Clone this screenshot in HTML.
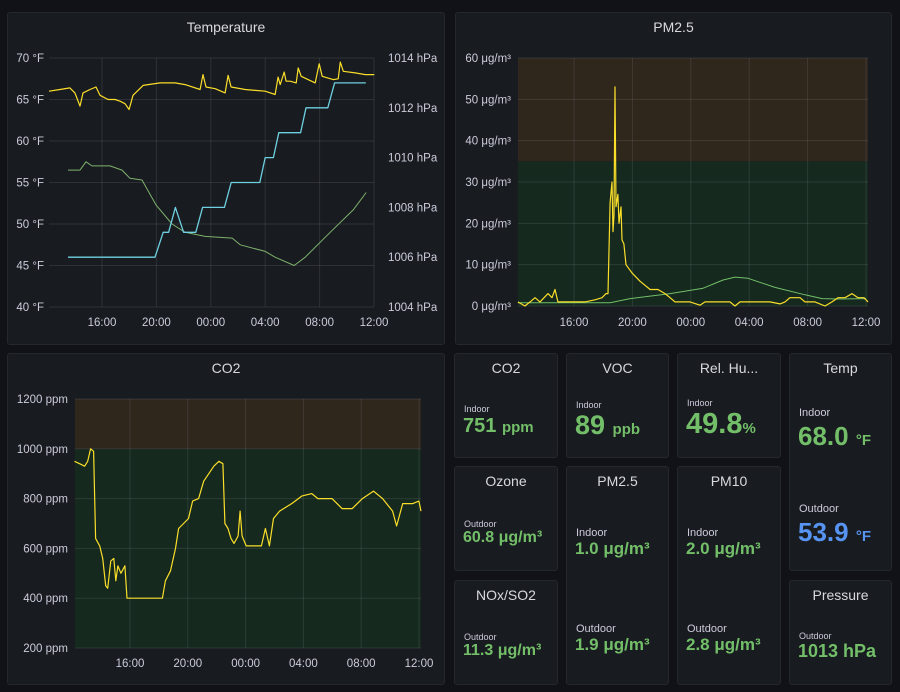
<!DOCTYPE html>
<html><head><meta charset="utf-8">
<style>
body{margin:0;background:#111217;width:900px;height:692px;overflow:hidden;font-family:"Liberation Sans",sans-serif;color:#ccccdc;position:relative}
.panel{position:absolute;background:#181b1f;border:1px solid #24272d;border-radius:3px;box-sizing:border-box}
.ptitle{position:absolute;left:0;right:0;top:6px;text-align:center;font-size:14px;color:#d8d9e0}
.lbl{position:absolute;font-size:9px;color:#ccccdc}
.val{position:absolute;font-size:20px;color:#73bf69;white-space:nowrap;font-weight:bold}
.unit{font-size:15px}
svg{position:absolute;left:0;top:0}
svg text{font-family:"Liberation Sans",sans-serif;font-size:11.5px;fill:#ccccdc}
</style></head><body>
<div class="panel" style="left:7px;top:12px;width:438px;height:333px"><div class="ptitle">Temperature</div></div>
<div class="panel" style="left:455px;top:12px;width:437px;height:333px"><div class="ptitle">PM2.5</div></div>
<div class="panel" style="left:7px;top:353px;width:438px;height:332px"><div class="ptitle">CO2</div></div>

<div class="panel" style="left:454px;top:353px;width:104px;height:105px"><div class="ptitle">CO2</div><div class="lbl" style="left:9px;top:50px">Indoor</div><div class="val" style="left:8px;top:61px">751 <span class="unit">ppm</span></div></div>
<div class="panel" style="left:566px;top:353px;width:103px;height:105px"><div class="ptitle">VOC</div><div class="lbl" style="left:9px;top:46px">Indoor</div><div class="val" style="left:8px;top:56px;font-size:27px">89 <span class="unit">ppb</span></div></div>
<div class="panel" style="left:677px;top:353px;width:104px;height:105px"><div class="ptitle">Rel. Hu...</div><div class="lbl" style="left:9px;top:44px">Indoor</div><div class="val" style="left:8px;top:54px;font-size:29px">49.8<span class="unit">%</span></div></div>
<div class="panel" style="left:789px;top:353px;width:103px;height:218px"><div class="ptitle">Temp</div><div class="lbl" style="left:9px;top:53px;font-size:11px">Indoor</div><div class="val" style="left:8px;top:67px;font-size:26px">68.0 <span class="unit">°F</span></div><div class="lbl" style="left:9px;top:149px;font-size:11px">Outdoor</div><div class="val" style="left:8px;top:163px;font-size:26px;color:#5794f2">53.9 <span class="unit">°F</span></div></div>
<div class="panel" style="left:454px;top:466px;width:104px;height:105px"><div class="ptitle">Ozone</div><div class="lbl" style="left:9px;top:52px">Outdoor</div><div class="val" style="left:8px;top:62px;font-size:16px">60.8 μg/m³</div></div>
<div class="panel" style="left:566px;top:466px;width:103px;height:219px"><div class="ptitle">PM2.5</div><div class="lbl" style="left:9px;top:60px;font-size:11px">Indoor</div><div class="val" style="left:8px;top:72px;font-size:17px">1.0 μg/m³</div><div class="lbl" style="left:9px;top:156px;font-size:11px">Outdoor</div><div class="val" style="left:8px;top:168px;font-size:17px">1.9 μg/m³</div></div>
<div class="panel" style="left:677px;top:466px;width:104px;height:219px"><div class="ptitle">PM10</div><div class="lbl" style="left:9px;top:60px;font-size:11px">Indoor</div><div class="val" style="left:8px;top:72px;font-size:17px">2.0 μg/m³</div><div class="lbl" style="left:9px;top:156px;font-size:11px">Outdoor</div><div class="val" style="left:8px;top:168px;font-size:17px">2.8 μg/m³</div></div>
<div class="panel" style="left:454px;top:580px;width:104px;height:105px"><div class="ptitle">NOx/SO2</div><div class="lbl" style="left:9px;top:51px">Outdoor</div><div class="val" style="left:8px;top:61px;font-size:16px">11.3 μg/m³</div></div>
<div class="panel" style="left:789px;top:580px;width:103px;height:105px"><div class="ptitle">Pressure</div><div class="lbl" style="left:9px;top:50px">Outdoor</div><div class="val" style="left:8px;top:60px;font-size:18px">1013 hPa</div></div>

<svg id="chart" width="900" height="692"></svg>
<script>
const timeTicks=[4,8,12,16,20,24];
const timeLabels=["16:00","20:00","00:00","04:00","08:00","12:00"];
const tempTicks=[40,45,50,55,60,65,70];
const pressTicks=[1004,1006,1008,1010,1012,1014];
const pmTicks=[0,10,20,30,40,50,60];
const co2Ticks=[200,400,600,800,1000,1200];
const tempInTimes=[0.10,0.91,1.64,2.01,2.38,2.60,3.12,3.56,3.85,4.44,4.96,5.32,5.69,5.99,6.28,7.02,8.27,9.37,10.11,11.21,11.43,11.65,12.32,13.05,13.27,13.49,14.52,16.00,16.73,16.95,17.10,17.40,17.54,17.84,18.28,18.43,18.65,19.68,19.97,20.19,21.00,21.37,21.52,21.74,22.62,23.36,24.02];
const tempInValues=[66,66.2,66.4,65.8,64.2,65.8,66.2,66.5,65.5,65,65,64.8,64.5,63.8,65.5,66.7,67,67,66.8,66.2,68,66.5,66.3,65.8,67.9,66.5,66.2,66,65.6,67.7,66.8,68.3,67.2,67.2,67,68.8,67.8,67,69.3,67.8,67.4,67.5,69.5,68.4,68.2,68,68];
const tempOutTimes=[1.50,2.38,2.82,3.26,4.59,5.47,6.06,6.94,7.97,9.15,10.11,11.58,13.57,14.16,16.00,16.73,18.13,18.94,20.78,22.47,23.43];
const tempOutValues=[56.5,56.5,57.5,57,57,56.5,55.5,55.3,52.3,50,49,48.5,48.3,47.5,46.7,46,45,46,49,51.7,53.8];
const pressTimes=[1.5,7.9,8.5,8.9,9.4,10.0,10.9,11.4,13.0,13.5,15.6,16.0,16.6,17.0,18.6,19.0,20.6,21.1,23.4];
const pressValues=[1006,1006,1007,1007,1008,1007,1007,1008,1008,1009,1009,1010,1010,1011,1011,1012,1012,1013,1013];
const pmInTimes=[0.16,0.64,0.99,1.33,1.67,2.22,2.49,2.70,2.90,3.38,4.07,4.75,5.44,5.92,6.19,6.33,6.47,6.60,6.67,6.74,6.81,6.88,7.01,7.08,7.22,7.29,7.42,7.56,7.77,7.97,8.25,8.52,8.86,9.21,9.75,10.23,10.58,10.92,11.95,12.63,12.97,14.68,15.03,15.37,17.42,18.11,18.45,18.79,19.48,19.82,20.51,21.19,21.67,22.08,22.56,23.04,23.45,23.86,24.14];
const pmInValues=[1,0,1,2,1,3,2,4,1,1,1,1,1.5,2,3,3,25,30,18,22,53,24,27,20,24,16,15,10,9,8,7,6,5,4,4,3,2,1,1,0.2,1,1,0,1,1,0.5,1,2,2,1,1,0,1,2,2,3,2,2,1];
const pmOutTimes=[0.16,6.47,7.84,10.58,12.84,14.21,15.03,15.92,17.77,19.82,20.99,22.08,24.0];
const pmOutValues=[0.8,0.8,1.8,3,4.3,6.3,7,6.7,4.5,2.7,1.8,1.7,1.8];
const co2Times=[0.16,0.51,0.86,1.07,1.27,1.48,1.62,1.90,2.11,2.32,2.46,2.67,2.88,3.02,3.16,3.37,3.65,3.79,4.21,6.24,6.45,6.80,7.15,7.36,7.71,8.05,8.33,8.75,9.10,9.45,9.80,10.15,10.43,10.57,10.78,10.99,11.20,11.48,11.62,11.76,12.04,12.53,13.09,13.37,13.65,13.93,14.35,15.19,15.88,16.58,17.00,17.98,18.68,19.38,20.08,20.85,21.48,22.17,22.45,22.87,23.57,23.99,24.14];
const co2Values=[950,940,930,950,1000,990,640,610,560,450,440,550,560,470,530,500,530,400,400,400,470,510,600,680,700,720,790,800,870,900,930,950,940,700,680,640,620,650,750,650,610,610,610,680,610,720,750,780,810,820,800,800,760,760,800,830,800,750,690,780,780,790,750];

const svg=document.getElementById('chart');
const NS='http://www.w3.org/2000/svg';
function mk(tag,attrs){const e=document.createElementNS(NS,tag);for(const k in attrs)e.setAttribute(k,attrs[k]);svg.appendChild(e);return e;}
function lin(d0,d1,r0,r1){return v=>r0+(v-d0)*(r1-r0)/(d1-d0);}
function axes(x,y,ticks,fmt,x0,x1,yLabelRight){
  ticks.forEach(v=>{const l=mk('line',{x1:x0,x2:x1,y1:y(v),y2:y(v),stroke:'rgba(204,204,220,0.12)'});
    
    
    const t=mk('text',{x:yLabelRight,y:y(v)+4,'text-anchor':'end'});t.textContent=fmt(v);
    
    });
}
function xaxis(x,y0,y1,ly){
  timeTicks.forEach((v,i)=>{const l=mk('line',{x1:x(v),x2:x(v),y1:y0,y2:y1,stroke:'rgba(204,204,220,0.12)'});
    
    
    const t=mk('text',{x:x(v),y:ly,'text-anchor':'middle'});t.textContent=timeLabels[i];
    
    });
}
function line(ts,vs,x,y,color,w,name){
  const d=ts.map((t,i)=>(i?'L':'M')+x(t).toFixed(1)+','+y(vs[i]).toFixed(1)).join('');
  const p=mk('path',{d:d,fill:'none',stroke:color,'stroke-width':w,'stroke-linejoin':'round'});
  
  
}
// Temperature
{const x=lin(4,24,102,374),y=lin(70,40,58,307),yp=lin(1014,1004,58,307);
 axes(x,y,tempTicks,v=>v+' °F',49,374,44);
 pressTicks.forEach(v=>{const t=mk('text',{x:388,y:yp(v)+4});t.textContent=v+' hPa';
  
  });
 xaxis(x,58,307,326);
 line(tempOutTimes,tempOutValues,x,y,'#7eb26d',1,'outdoor-temp-line');
 line(pressTimes,pressValues,x,yp,'#6ed0e0',1.3,'pressure-line');
 line(tempInTimes,tempInValues,x,y,'#fade2a',1.2,'indoor-temp-line');}
// PM2.5
{const x=lin(4,24,574,866),y=lin(0,60,306,58);
 let r=mk('rect',{x:518,y:y(60),width:350,height:y(35)-y(60),fill:'#2f261c'});
 r=mk('rect',{x:518,y:y(35),width:350,height:y(0)-y(35),fill:'#15291e'});
 axes(x,y,pmTicks,v=>v+' μg/m³',518,868,511);
 xaxis(x,58,306,326);
 line(pmOutTimes,pmOutValues,x,y,'#73bf69',1,'pm-outdoor-line');
 line(pmInTimes,pmInValues,x,y,'#fade2a',1.2,'pm-indoor-line');}
// CO2
{const x=lin(4,24,130,419),y=lin(200,1200,648,399);
 let r=mk('rect',{x:75,y:y(1200),width:346,height:y(1000)-y(1200),fill:'#2f261c'});
 r=mk('rect',{x:75,y:y(1000),width:346,height:y(200)-y(1000),fill:'#15291e'});
 axes(x,y,co2Ticks,v=>v+' ppm',75,421,68);
 xaxis(x,399,648,667);
 line(co2Times,co2Values,x,y,'#fade2a',1.2,'co2-line');}
</script>
</body></html>
